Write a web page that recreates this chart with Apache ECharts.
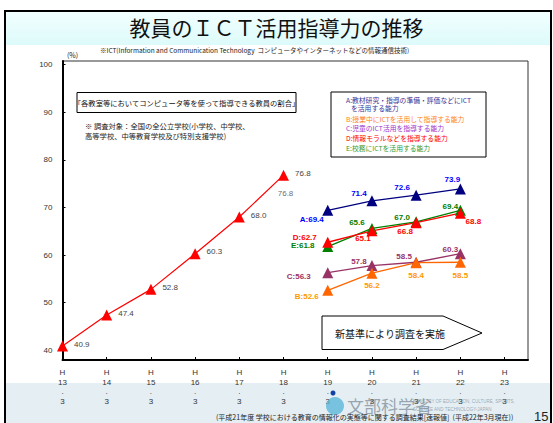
<!DOCTYPE html>
<html lang="ja">
  <head>
    <meta charset="UTF-8" />
    <script src="https://cdn.jsdelivr.net/npm/echarts@6/dist/echarts.min.js"></script>
    <title>教員のICT活用指導力の推移</title>
  </head>
  <body style="margin:0">
    <div id="main" style="width:553px;height:423px"></div>
  </body>
</html>

<script>
  // 年度 (平成) と値
  const years = [13, 14, 15, 16, 17, 18, 19, 20, 21, 22, 23];
  const yTicks = [40, 50, 60, 70, 80, 90, 100];
  const oldYears = [13, 14, 15, 16, 17, 18];
  const oldValues = [40.9, 47.4, 52.8, 60.3, 68.0, 76.8];
  const newYears = [19, 20, 21, 22];
  const valA = [69.4, 71.4, 72.6, 73.9];
  const valB = [52.6, 56.2, 58.4, 58.5];
  const valC = [56.3, 57.8, 58.5, 60.3];
  const valD = [62.7, 65.1, 66.8, 68.8];
  const valE = [61.8, 65.6, 67.0, 69.4];

  const jp = '"Noto Sans CJK JP", sans-serif';
  const num = '"Liberation Sans", Arial, sans-serif';

  // label offsets for each point (style only)
  const offs = {
    A: [[-16, 9], [-13, -7], [-14, -8], [-8, -9]],
    B: [[-21, 6], [0, 12], [0, 13], [0, 13]],
    C: [[-29, 4], [-13, -4], [-12, -6], [-10, -4]],
    D: [[-23, -5], [-9, 8], [-11, 9], [13, 8]],
    E: [[-25, -1], [-15, -6], [-14, -4], [-10, -4]],
  };

  const makeSeries = (key, vals, lineColor, labelColor) => ({
    type: "line",
    data: vals.map((v, i) => ({
      value: [newYears[i], v],
      label: {
        offset: offs[key][i],
        formatter: i === 0 ? key + ":" + v.toFixed(1) : v.toFixed(1),
      },
    })),
    symbol: "triangle",
    symbolSize: 11,
    lineStyle: { color: lineColor, width: 1.3 },
    itemStyle: { color: lineColor },
    label: {
      show: true,
      position: "inside",
      color: labelColor,
      fontFamily: num,
      fontWeight: "bold",
      fontSize: 8,
    },
    z: 3,
  });

  const chart = echarts.init(document.getElementById("main"), null, { renderer: "svg" });
  chart.setOption({
    animation: false,
    backgroundColor: "#fff",
    grid: { left: 62.5, top: 61, right: 25, bottom: 63, show: true, borderColor: "#333", borderWidth: 1, outerBoundsMode: "none" },
    xAxis: {
      type: "value",
      min: 13,
      max: 23.53,
      splitLine: { show: false },
      axisLine: { lineStyle: { color: "#000", width: 2 } },
      axisTick: { inside: true, length: 3, customValues: years, lineStyle: { color: "#000" } },
      axisLabel: {
        customValues: years,
        formatter: (v) => "H\n" + v + "\n.\n3",
        fontFamily: num,
        fontSize: 8,
        lineHeight: 9.5,
        color: "#333",
        margin: 8,
      },
    },
    yAxis: {
      type: "value",
      min: 37.96,
      max: 100.78,
      splitLine: { show: false },
      axisLine: { show: true, lineStyle: { color: "#000", width: 2 } },
      axisTick: { show: true, inside: true, length: 3, customValues: yTicks, lineStyle: { color: "#000" } },
      axisLabel: { customValues: yTicks, fontFamily: num, fontSize: 8, color: "#333", margin: 10 },
    },
    series: [
      {
        type: "line",
        data: oldYears.map((y, i) => [y, oldValues[i]]),
        symbol: "triangle",
        symbolSize: 11,
        lineStyle: { color: "#FF0000", width: 1.2 },
        itemStyle: { color: "#FF0000" },
        label: {
          show: true,
          position: "right",
          distance: 6,
          offset: [0, -2],
          color: "#444",
          fontFamily: num,
          fontSize: 8,
          formatter: (p) => p.value[1].toFixed(1),
        },
        z: 3,
      },
      {
        // 2つ目の76.8ラベル
        type: "scatter",
        data: [[oldYears[5], oldValues[5]]],
        symbolSize: 1,
        itemStyle: { color: "rgba(0,0,0,0)" },
        label: {
          show: true,
          position: "inside",
          offset: [2, 18],
          color: "#444",
          fontFamily: num,
          fontSize: 8,
          formatter: (p) => p.value[1].toFixed(1),
        },
        z: 4,
      },
      makeSeries("A", valA, "#000080", "#0000FF"),
      makeSeries("E", valE, "#008000", "#008000"),
      makeSeries("D", valD, "#FF0000", "#FF0000"),
      makeSeries("C", valC, "#993366", "#993366"),
      makeSeries("B", valB, "#FF6600", "#FF9900"),
    ],
    graphic: [
      // title band
      {
        type: "rect", z: -10,
        shape: { x: 5, y: 12, width: 546, height: 33 },
        style: { fill: new echarts.graphic.LinearGradient(0, 0, 0, 1, [{ offset: 0, color: "#F2FFFF" }, { offset: 1, color: "#DDFAFA" }]) },
      },
      // footer band
      { type: "rect", z: -10, shape: { x: 5, y: 383, width: 546, height: 40 }, style: { fill: "#E4EEF3" } },
      // frame
      { type: "rect", z: 10, shape: { x: 5, y: 11, width: 546, height: 420 }, style: { fill: "none", stroke: "#000", lineWidth: 2 } },
      {
        type: "text", left: "center", top: 16,
        style: { text: "教員のＩＣＴ活用指導力の推移", font: '400 21px ' + jp, fill: "#111" },
      },
      {
        type: "text", x: 100, y: 47,
        style: { text: "※ICT(Information and Communication Technology  コンピュータやインターネットなどの情報通信技術)", font: "6.5px " + jp, fill: "#222" },
      },
      { type: "text", x: 67, y: 51, style: { text: "(%)", font: "7px " + jp, fill: "#222" } },
      // explanation box
      { type: "rect", shape: { x: 77, y: 92.5, width: 219, height: 20 }, style: { fill: "#fff", stroke: "#000", lineWidth: 1 } },
      {
        type: "text", x: 186.5, y: 102.5,
        style: { text: "「各教室等においてコンピュータ等を使って指導できる教員の割合」", font: "7.3px " + jp, fill: "#111", align: "center", verticalAlign: "middle" },
      },
      {
        type: "text", x: 85, y: 121,
        style: { text: "※ 調査対象：全国の全公立学校(小学校、中学校、\n高等学校、中等教育学校及び特別支援学校)", font: "7.3px " + jp, lineHeight: 10, fill: "#222" },
      },
      // legend box
      { type: "rect", shape: { x: 331, y: 92, width: 155, height: 65 }, style: { fill: "#fff", stroke: "#000", lineWidth: 1 } },
      { type: "text", x: 346, y: 97, style: { text: "A:教材研究・指導の準備・評価などにICT", font: "6.8px " + jp, fill: "#333399" } },
      { type: "text", x: 351, y: 105, style: { text: "を活用する能力", font: "6.8px " + jp, fill: "#333399" } },
      { type: "text", x: 346, y: 115.5, style: { text: "B:授業中にICTを活用して指導する能力", font: "6.8px " + jp, fill: "#FF7F27" } },
      { type: "text", x: 346, y: 125, style: { text: "C:児童のICT活用を指導する能力", font: "6.8px " + jp, fill: "#9933CC" } },
      { type: "text", x: 346, y: 134.5, style: { text: "D:情報モラルなどを指導する能力", font: "6.8px " + jp, fill: "#FF0000" } },
      { type: "text", x: 346, y: 145, style: { text: "E:校務にICTを活用する能力", font: "6.8px " + jp, fill: "#339933" } },
      // arrow box
      {
        type: "polygon",
        shape: { points: [[322, 316], [443, 316], [482, 333], [443, 349.5], [322, 349.5]] },
        style: { fill: "#fff", stroke: "#000", lineWidth: 1 },
      },
      {
        type: "text", x: 390, y: 333,
        style: { text: "新基準により調査を実施", font: "10px " + jp, fill: "#111", align: "center", verticalAlign: "middle" },
      },
      // logo watermark
      { type: "circle", z: 5, shape: { cx: 335, cy: 406, r: 9 }, style: { fill: "#5BB7D9", opacity: 0.8 } },
      { type: "circle", z: 5, shape: { cx: 333, cy: 393, r: 2.5 }, style: { fill: "#1040A0" } },
      { type: "text", z: 5, x: 347, y: 397, style: { text: "文部科学省", font: "17px " + jp, fill: "#556677", opacity: 0.55 } },
      {
        type: "text", z: 5, x: 413, y: 397,
        style: { text: "MINISTRY OF EDUCATION, CULTURE, SPORTS,\nSCIENCE AND TECHNOLOGY-JAPAN", font: "4.5px " + num, lineHeight: 8, fill: "#667788", opacity: 0.6 },
      },
      {
        type: "text", z: 6, x: 216, y: 413,
        style: { text: "(平成21年度 学校における教育の情報化の実態等に関する調査結果[速報値]  (平成22年3月現在))", font: "7px " + jp, fill: "#222" },
      },
      { type: "text", z: 6, x: 534, y: 410, style: { text: "15", font: "13px " + num, fill: "#222" } },
    ],
  });
</script>
